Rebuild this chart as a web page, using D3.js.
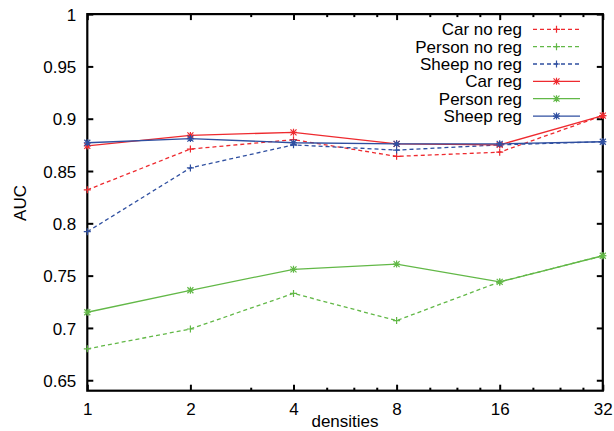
<!DOCTYPE html>
<html><head><meta charset="utf-8">
<script src="https://cdn.jsdelivr.net/npm/d3@7"></script>
<style>body{margin:0;background:#fff}svg{display:block}text{font-family:"Liberation Sans",Arial,sans-serif;fill:#000}</style>
</head><body><svg id="c" width="614" height="431"></svg>
<script>
const densities = [1, 2, 4, 8, 16, 32];
const carNoReg    = [0.832, 0.871, 0.880, 0.864, 0.868, 0.903];
const personNoReg = [0.680, 0.699, 0.733, 0.707, 0.744, 0.769];
const sheepNoReg  = [0.792, 0.853, 0.875, 0.870, 0.875, 0.878];
const carReg      = [0.874, 0.884, 0.887, 0.876, 0.875, 0.903];
const personReg   = [0.715, 0.736, 0.756, 0.761, 0.744, 0.769];
const sheepReg    = [0.877, 0.881, 0.877, 0.876, 0.876, 0.878];
const yTicks = [0.65, 0.7, 0.75, 0.8, 0.85, 0.9, 0.95, 1];
const xMinorTicks = [3, 5, 6, 7, 10, 12, 14, 20, 24, 28];
const seriesNames = ["Car no reg", "Person no reg", "Sheep no reg", "Car reg", "Person reg", "Sheep reg"];

const RED = "#ee2a2f", GREEN = "#62b847", BLUE = "#2f4fa0";
const series = [
  {name: seriesNames[0], values: carNoReg, color: RED, dashed: true, marker: "plus"},
  {name: seriesNames[1], values: personNoReg, color: GREEN, dashed: true, marker: "plus"},
  {name: seriesNames[2], values: sheepNoReg, color: BLUE, dashed: true, marker: "plus"},
  {name: seriesNames[3], values: carReg, color: RED, dashed: false, marker: "star"},
  {name: seriesNames[4], values: personReg, color: GREEN, dashed: false, marker: "star"},
  {name: seriesNames[5], values: sheepReg, color: BLUE, dashed: false, marker: "star"}
];

const FS = 17;
const L = 87.3, R = 602.8, T = 14.1, B = 390.7;
const svg = d3.select("#c");
const x = d3.scaleLog().base(2).domain([1, 32]).range([L, R]);
const y = d3.scaleLinear().domain([0.64, 1]).range([B, T]);

// axes
const gx = svg.append("g").attr("transform", `translate(0,${B})`)
  .call(d3.axisBottom(x).tickValues(densities).tickFormat(d3.format("d")).tickSizeInner(-6).tickSizeOuter(0).tickPadding(12));
const gxt = svg.append("g").attr("transform", `translate(0,${T})`)
  .call(d3.axisTop(x).tickValues(densities).tickFormat("").tickSizeInner(-6).tickSizeOuter(0));
const gxm = svg.append("g").attr("transform", `translate(0,${B})`)
  .call(d3.axisBottom(x).tickValues(xMinorTicks).tickFormat("").tickSizeInner(-3).tickSizeOuter(0));
const gxmt = svg.append("g").attr("transform", `translate(0,${T})`)
  .call(d3.axisTop(x).tickValues(xMinorTicks).tickFormat("").tickSizeInner(-3).tickSizeOuter(0));
const gy = svg.append("g").attr("transform", `translate(${L},0)`)
  .call(d3.axisLeft(y).tickValues(yTicks).tickFormat(d => d3.format("")(+d.toFixed(2))).tickSizeInner(-6).tickSizeOuter(0).tickPadding(11));
const gyr = svg.append("g").attr("transform", `translate(${R},0)`)
  .call(d3.axisRight(y).tickValues(yTicks).tickFormat("").tickSizeInner(-6).tickSizeOuter(0));
[gx, gxt, gxm, gxmt, gy, gyr].forEach(g => {
  g.select(".domain").remove();
  g.selectAll(".tick line").attr("stroke", "#000").attr("stroke-width", 2);
  g.selectAll(".tick text").attr("font-size", FS).attr("font-family", '"Liberation Sans",Arial,sans-serif').attr("fill", "#000");
});
gy.selectAll(".tick text").attr("dy", "0.36em");

// border
svg.append("rect").attr("x", L).attr("y", T).attr("width", R - L).attr("height", B - T)
  .attr("fill", "none").attr("stroke", "#000").attr("stroke-width", 2.2);

// axis titles
svg.append("text").attr("x", 345).attr("y", 427).attr("text-anchor", "middle").attr("font-size", FS).text("densities");
svg.append("text").attr("transform", "translate(26,203) rotate(-90)").attr("text-anchor", "middle").attr("font-size", FS).text("AUC");

function drawMarker(g, cx, cy, type, color) {
  const s = 3.5;
  let p = `M${cx - s},${cy}H${cx + s}M${cx},${cy - s}V${cy + s}`;
  if (type === "star") {
    const d = 3;
    p += `M${cx - d},${cy - d}L${cx + d},${cy + d}M${cx - d},${cy + d}L${cx + d},${cy - d}`;
  }
  g.append("path").attr("d", p).attr("stroke", color).attr("stroke-width", 1.2).attr("fill", "none");
}

const line = d3.line().x((d, i) => x(densities[i])).y(d => y(d));
const plot = svg.append("g");
series.forEach(s => {
  plot.append("path").attr("d", line(s.values)).attr("fill", "none").attr("stroke", s.color)
    .attr("stroke-width", 1.3).attr("stroke-dasharray", s.dashed ? "4,3" : null);
  s.values.forEach((v, i) => drawMarker(plot, x(densities[i]), y(v), s.marker, s.color));
});

// legend
const leg = svg.append("g");
const legY0 = 29.3, legDy = 17.35, legTextX = 522, legL = 533, legR = 580;
series.forEach((s, i) => {
  const yy = legY0 + i * legDy;
  leg.append("text").attr("x", legTextX).attr("y", yy).attr("dy", "0.36em").attr("text-anchor", "end")
    .attr("font-size", FS).text(s.name);
  leg.append("line").attr("x1", legL).attr("x2", legR).attr("y1", yy).attr("y2", yy)
    .attr("stroke", s.color).attr("stroke-width", 1.3).attr("stroke-dasharray", s.dashed ? "4,3" : null);
  drawMarker(leg, (legL + legR) / 2, yy, s.marker, s.color);
});
</script></body></html>
